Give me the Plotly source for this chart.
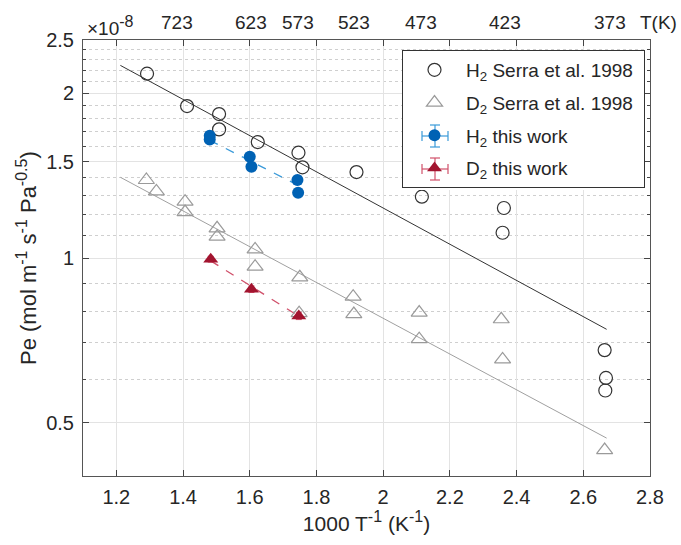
import plotly.graph_objects as go

# ---- data (Pe in units of 1e-8 mol m^-1 s^-1 Pa^-0.5) ----
h2_serra_x = [1.292, 1.412, 1.508, 1.508, 1.624, 1.746, 1.758, 1.920, 2.116, 2.362, 2.358, 2.664, 2.668, 2.666]
h2_serra_y = [2.17, 1.894, 1.831, 1.717, 1.628, 1.557, 1.464, 1.435, 1.294, 1.234, 1.112, 0.679, 0.604, 0.573]

d2_serra_x = [1.290, 1.320, 1.406, 1.406, 1.502, 1.502, 1.616, 1.616, 1.750, 1.748,
              1.910, 1.912, 2.108, 2.108, 2.354, 2.358, 2.664]
d2_serra_y = [1.388, 1.323, 1.267, 1.213, 1.133, 1.094, 1.037, 0.964, 0.922, 0.793,
              0.850, 0.790, 0.795, 0.711, 0.773, 0.653, 0.446]

h2_work_x = [1.480, 1.480, 1.600, 1.605, 1.743, 1.745]
h2_work_y = [1.672, 1.645, 1.531, 1.468, 1.388, 1.316]
h2_work_ey = [0.012, 0.012, 0.012, 0.012, 0.012, 0.012]
h2_work_ex = [0.004, 0.004, 0.004, 0.004, 0.004, 0.004]

d2_work_x = [1.483, 1.605, 1.747]
d2_work_y = [0.995, 0.877, 0.784]
d2_work_ey = [0.012, 0.012, 0.012]
d2_work_ex = [0.004, 0.004, 0.004]

fit_h2_serra_x = [1.212, 2.670]
fit_h2_serra_y = [2.247, 0.741]
fit_d2_serra_x = [1.212, 2.670]
fit_d2_serra_y = [1.404, 0.469]
fit_h2_work_x = [1.480, 1.745]
fit_h2_work_y = [1.640, 1.357]
fit_d2_work_x = [1.483, 1.747]
fit_d2_work_y = [0.988, 0.783]

x_ticks = [1.2, 1.4, 1.6, 1.8, 2.0, 2.2, 2.4, 2.6, 2.8]
x_ticktext = ["1.2", "1.4", "1.6", "1.8", "2", "2.2", "2.4", "2.6", "2.8"]
y_ticks = [0.5, 1.0, 1.5, 2.0, 2.5]
y_ticktext = ["0.5", "1", "1.5", "2", "2.5"]
y_minor = [0.6, 0.7, 0.8, 0.9, 1.1, 1.2, 1.3, 1.4, 1.6, 1.7, 1.8, 1.9, 2.1, 2.2, 2.3, 2.4]
top_T = [723, 623, 573, 523, 473, 423, 373]

FONT = "Liberation Sans, Arial, sans-serif"
TXT = "#262626"
BLUE = "#0062B4"
BLUE_L = "#3A9AD9"
RED = "#A2142F"
RED_L = "#D0506A"

# plot-area geometry in pixels (for placing legend decorations)
W, H = 681, 545
ML, MR, MT, MB = 83, 31, 40, 69
PW, PH = W - ML - MR, H - MT - MB


def px(xp):
    return (xp - ML) / PW


def py(yp):
    return (H - MB - yp) / PH


def sup(s):
    return '<sup><span style="font-size:16px">' + s + '</span></sup>'


fig = go.Figure()

# fit lines (no legend)
fig.add_trace(go.Scatter(x=fit_h2_serra_x, y=fit_h2_serra_y, mode="lines",
                         line=dict(color="#333333", width=1), showlegend=False, hoverinfo="skip"))
fig.add_trace(go.Scatter(x=fit_d2_serra_x, y=fit_d2_serra_y, mode="lines",
                         line=dict(color="#a0a0a0", width=1), showlegend=False, hoverinfo="skip"))
fig.add_trace(go.Scatter(x=fit_h2_work_x, y=fit_h2_work_y, mode="lines",
                         line=dict(color=BLUE_L, width=1.3, dash="dash"), showlegend=False, hoverinfo="skip"))
fig.add_trace(go.Scatter(x=fit_d2_work_x, y=fit_d2_work_y, mode="lines",
                         line=dict(color=RED_L, width=1.3, dash="dash"), showlegend=False, hoverinfo="skip"))

fig.add_trace(go.Scatter(x=h2_serra_x, y=h2_serra_y, mode="markers", legendgroup="a",
                         name="H<sub>2</sub> Serra et al. 1998\u00a0",
                         marker=dict(symbol="circle-open", size=13, color="#333333", line=dict(width=1.2))))
fig.add_trace(go.Scatter(x=d2_serra_x, y=d2_serra_y, mode="markers", legendgroup="b",
                         name="D<sub>2</sub> Serra et al. 1998\u00a0",
                         marker=dict(symbol="triangle-up-open", size=14, color="#9a9a9a", line=dict(width=1.2))))
fig.add_trace(go.Scatter(x=h2_work_x, y=h2_work_y, mode="markers", legendgroup="c",
                         name="H<sub>2</sub> this work",
                         marker=dict(symbol="circle", size=12, color=BLUE),
                         error_y=dict(type="data", array=h2_work_ey, color=BLUE_L, thickness=1, width=3),
                         error_x=dict(type="data", array=h2_work_ex, color=BLUE_L, thickness=1, width=3)))
fig.add_trace(go.Scatter(x=d2_work_x, y=d2_work_y, mode="markers", legendgroup="d",
                         name="D<sub>2</sub> this work",
                         marker=dict(symbol="triangle-up", size=13, color=RED),
                         error_y=dict(type="data", array=d2_work_ey, color=RED_L, thickness=1, width=3),
                         error_x=dict(type="data", array=d2_work_ex, color=RED_L, thickness=1, width=3)))

# white legend background (legend itself is transparent so error-bar glyphs show)
shapes = [dict(type="rect", xref="paper", yref="paper", layer="above",
               x0=px(403), x1=px(645), y0=py(190), y1=py(50),
               fillcolor="white", line=dict(width=0))]
# error-bar glyphs for the legend entries of "this work"
for cy, col in [(136, BLUE_L), (169, RED_L)]:
    cx = 435
    segs = [
        (cx, cy - 11, cx, cy + 11), (cx - 5, cy - 11, cx + 5, cy - 11), (cx - 5, cy + 11, cx + 5, cy + 11),
        (cx - 13, cy, cx + 13, cy), (cx - 13, cy - 5, cx - 13, cy + 5), (cx + 13, cy - 5, cx + 13, cy + 5),
    ]
    for x0, y0, x1, y1 in segs:
        shapes.append(dict(type="line", xref="paper", yref="paper", layer="above",
                           x0=px(x0), y0=py(y0), x1=px(x1), y1=py(y1),
                           line=dict(color=col, width=1.2)))

# top temperature labels
for T in top_T:
    fig.add_annotation(x=1000.0 / T, y=1.04, xref="x", yref="paper", text=str(T),
                       showarrow=False, xanchor="center", yanchor="middle",
                       font=dict(family=FONT, size=19, color=TXT))
fig.add_annotation(x=1.051, y=1.04, xref="paper", yref="paper", text="T(K)",
                   showarrow=False, xanchor="right", yanchor="middle",
                   font=dict(family=FONT, size=19, color=TXT))
fig.add_annotation(x=0.003, y=1.0, xref="paper", yref="paper", text="×10" + sup("-8"),
                   showarrow=False, xanchor="left", yanchor="bottom", yshift=-1,
                   font=dict(family=FONT, size=19, color=TXT))
# y-axis title
fig.add_annotation(x=px(27), y=0.5, xref="paper", yref="paper", textangle=-90,
                   text="Pe (mol m" + sup("-1") + " s" + sup("-1") + " Pa" + sup("-0.5") + ")",
                   showarrow=False, xanchor="center", yanchor="middle",
                   font=dict(family=FONT, size=22, color=TXT))

fig.update_layout(
    width=W, height=H,
    margin=dict(l=ML, r=MR, t=MT, b=MB, autoexpand=False),
    paper_bgcolor="white", plot_bgcolor="white",
    font=dict(family=FONT, size=19, color=TXT),
    showlegend=True,
    shapes=shapes,
    legend=dict(x=px(645), y=py(50), xanchor="right", yanchor="top",
                bgcolor="rgba(255,255,255,0)", bordercolor="#333333", borderwidth=1,
                font=dict(family=FONT, size=19, color=TXT),
                itemwidth=53, tracegroupgap=5, traceorder="grouped"),
    xaxis=dict(range=[1.1, 2.8], tickvals=x_ticks, ticktext=x_ticktext, automargin=False,
               ticks="inside", ticklen=6, tickcolor="#444", mirror="ticks",
               showline=True, linecolor="#555", linewidth=1, ticklabelstandoff=3,
               showgrid=True, gridcolor="#e3e3e3", gridwidth=1, zeroline=False,
               title=dict(text="1000 T" + sup("-1") + " (K" + sup("-1") + ")", standoff=2,
                          font=dict(family=FONT, size=21, color=TXT)),
               tickfont=dict(family=FONT, size=20, color=TXT)),
    yaxis=dict(type="log", range=[-0.39794, 0.39794], automargin=False,
               tickvals=y_ticks, ticktext=y_ticktext,
               ticks="inside", ticklen=6, tickcolor="#444", mirror="ticks",
               showline=True, linecolor="#555", linewidth=1, ticklabelstandoff=4,
               showgrid=True, gridcolor="#e3e3e3", gridwidth=1, zeroline=False,
               minor=dict(tickvals=y_minor, ticks="inside", ticklen=3, tickcolor="#444",
                          showgrid=True, gridcolor="#cfcfcf", griddash="dot", gridwidth=1),
               tickfont=dict(family=FONT, size=20, color=TXT)),
)

fig.write_html("out.html", config={"displayModeBar": False},
               post_script="document.body.style.margin='0';document.body.style.padding='0';")
